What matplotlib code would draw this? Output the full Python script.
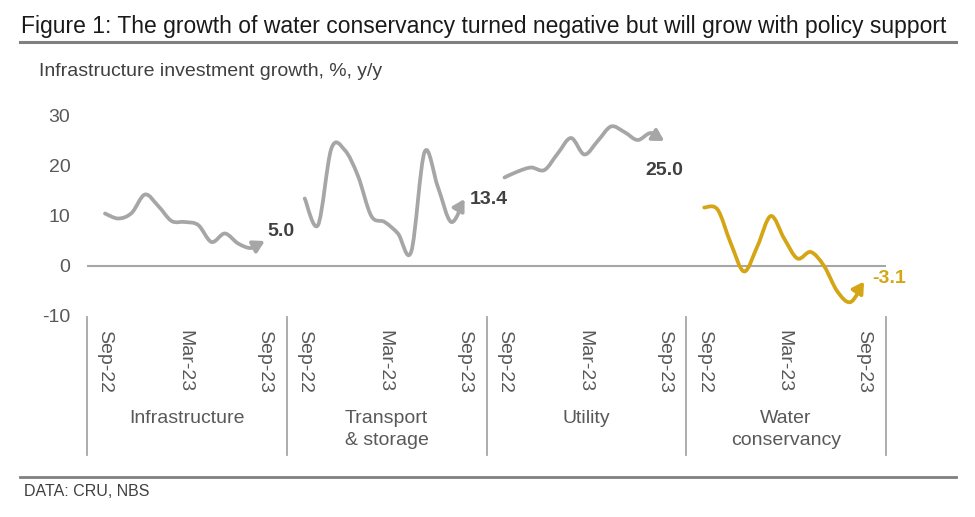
import numpy as np
import matplotlib
matplotlib.use("Agg")
import matplotlib.pyplot as plt
from matplotlib.path import Path
from matplotlib.patches import FancyArrowPatch
from matplotlib.lines import Line2D
from matplotlib.transforms import blended_transform_factory

plt.rcParams["font.family"] = ["Liberation Sans", "DejaVu Sans"]
plt.rcParams["axes.unicode_minus"] = False

# ============================================================
# Data, Sep-22 .. Sep-23
# ============================================================
months = ["Sep-22", "Oct-22", "Nov-22", "Dec-22", "Jan-23", "Feb-23", "Mar-23",
          "Apr-23", "May-23", "Jun-23", "Jul-23", "Aug-23", "Sep-23"]
tick_months = ["Sep-22", "Mar-23", "Sep-23"]
groups = ["Infrastructure", "Transport\n& storage", "Utility", "Water\nconservancy"]

infrastructure = [10.5, 9.5, 10.6, 14.3, 12.0, 9.0, 8.8, 8.2, 4.8, 6.5, 4.5, 3.6, 5.0]
transport = [13.5, 8.2, 23.5, 23.2, 18.0, 10.0, 8.8, 6.5, 2.9, 22.8, 15.8, 8.8, 13.4]
utility = [17.7, 18.9, 19.7, 19.2, 22.5, 25.6, 22.3, 25.0, 27.9, 26.8, 25.2, 26.6, 25.0]
water = [11.7, 11.3, 4.5, -1.1, 4.0, 10.0, 5.5, 1.5, 2.8, 0.0, -5.1, -7.2, -3.1]

series = [infrastructure, transport, utility, water]
end_labels = ["5.0", "13.4", "25.0", "-3.1"]

GRAY = "#A6A6A6"
GOLD = "#D4A514"
TEXT = "#595959"
DARK = "#404040"
FS = 14
line_colors = [GRAY, GRAY, GRAY, GOLD]
label_colors = [DARK, DARK, DARK, GOLD]
# label offsets in points (dx, dy) and alignment
label_offsets = [(2, 7), (4, 0), (0, -21), (6, 2)]
label_ha = ["left", "left", "center", "left"]

SLOTS = 15          # category slots per group
FIRST = 1.35        # slot position of the first month inside a group
W, H = 975, 517


def fx(px):
    return px / W


def fy(py):
    return 1 - py / H


def smooth_path(x, y):
    # Excel-like smoothed line: Catmull-Rom segments as cubic Beziers
    pts = np.column_stack([x, y]).astype(float)
    n = len(pts)
    verts = [pts[0]]
    codes = [Path.MOVETO]
    for i in range(n - 1):
        p0 = pts[max(i - 1, 0)]
        p1 = pts[i]
        p2 = pts[i + 1]
        p3 = pts[min(i + 2, n - 1)]
        verts += [p1 + (p2 - p0) / 6, p2 - (p3 - p1) / 6, p2]
        codes += [Path.CURVE4] * 3
    return Path(np.array(verts), codes)


fig = plt.figure(figsize=(W / 100, H / 100), dpi=100)
ax = fig.add_axes([fx(87), fy(316), fx(886) - fx(87), fy(116) - fy(316)])
ax.set_xlim(0, SLOTS * len(groups))
ax.set_ylim(-10, 30)
for sp in ax.spines.values():
    sp.set_visible(False)

ax.axhline(0, color=GRAY, lw=1.5, zorder=1)

ax.set_yticks([-10, 0, 10, 20, 30])
ax.tick_params(axis="y", length=0, pad=12, labelsize=FS, labelcolor=TEXT)

xt, xl = [], []
for g, (vals, lc, tc, lab, off, ha) in enumerate(
        zip(series, line_colors, label_colors, end_labels, label_offsets, label_ha)):
    x = g * SLOTS + FIRST + np.arange(len(months))
    path = smooth_path(x, vals)
    arrow = FancyArrowPatch(path=path, arrowstyle="-|>,head_length=0.55,head_width=0.32",
                            mutation_scale=12, color=lc, lw=2.7,
                            transform=ax.transData, zorder=3)
    ax.add_patch(arrow)
    ax.annotate(lab, xy=(x[-1], vals[-1]), xytext=off, textcoords="offset points",
                ha=ha, va="center", fontsize=FS, fontweight="bold", color=tc)
    for m in tick_months:
        xt.append(x[months.index(m)])
        xl.append(m)

ax.set_xticks(xt)
ax.set_xticklabels(xl, rotation=-90)
ax.tick_params(axis="x", length=0, pad=10, labelsize=FS, labelcolor=TEXT)

# group separators and group names below the axis
trans = blended_transform_factory(ax.transData, ax.transAxes)
ax_h = 316 - 116
for g in range(len(groups) + 1):
    ax.plot([g * SLOTS, g * SLOTS], [-1 / ax_h, -(455 - 316) / ax_h], color=GRAY,
            lw=1.3, transform=trans, clip_on=False)
for g, name in enumerate(groups):
    ax.text(g * SLOTS + SLOTS / 2, -(410 - 316) / ax_h, name, transform=trans,
            ha="center", va="top", fontsize=FS, color=TEXT, linespacing=1.35)

# titles, rules and source
fig.text(fx(21), fy(26), "Figure 1: The growth of water conservancy turned negative but will grow "
         "with policy support", ha="left", va="center", fontsize=16.5, color="#1A1A1A")
fig.add_artist(Line2D([fx(20), fx(956)], [fy(42), fy(42)], color="#808080", lw=2.2))
fig.text(fx(39), fy(71), "Infrastructure investment growth, %, y/y", ha="left", va="center",
         fontsize=FS, color=DARK)
fig.add_artist(Line2D([fx(20), fx(956)], [fy(477), fy(477)], color="#808080", lw=2.0))
fig.text(fx(24), fy(491), "DATA: CRU, NBS", ha="left", va="center", fontsize=11.5, color=DARK)

fig.savefig("out.png", dpi=100)
